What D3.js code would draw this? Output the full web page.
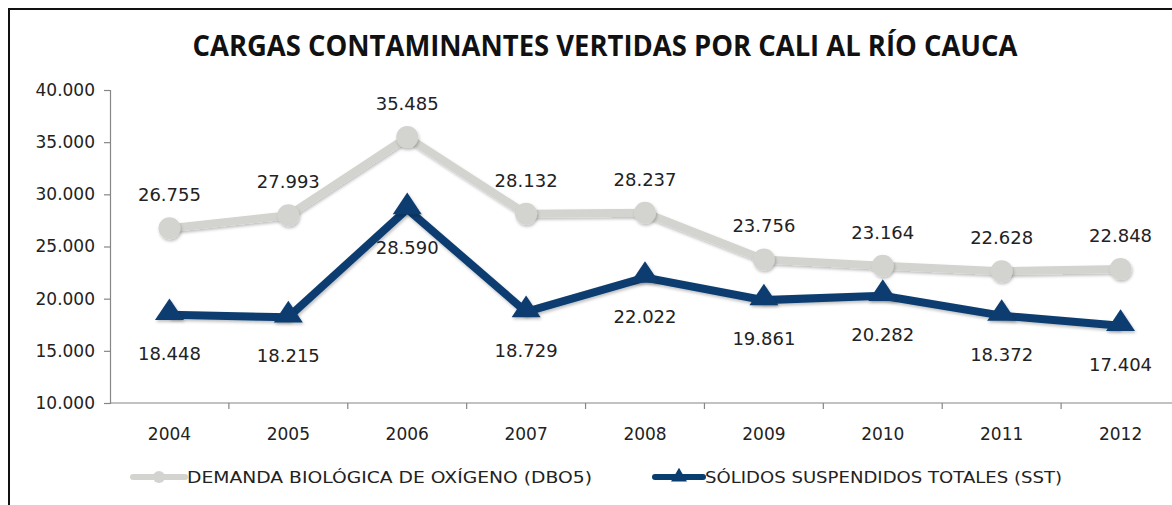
<!DOCTYPE html>
<html lang="es">
<head>
<meta charset="UTF-8">
<title>Cargas contaminantes vertidas por Cali al río Cauca</title>
<style>
    body { margin: 0; padding: 0; background: #fff; }
    svg { display: block; }
    .axis path, .axis line { stroke: #868686; stroke-width: 1.2; }
    .axis text { font-family: "DejaVu Sans", sans-serif; font-size: 17px; fill: #222; }
    .lbl { font-family: "DejaVu Sans", sans-serif; font-size: 18px; fill: #222; text-anchor: middle; }
</style>
<script src="https://d3js.org/d3.v7.min.js"></script>
</head>
<body>
<div id="chart"></div>
<script>
// datos
const years = ["2004", "2005", "2006", "2007", "2008", "2009", "2010", "2011", "2012"];
const dbo5 = [26755, 27993, 35485, 28132, 28237, 23756, 23164, 22628, 22848];
const sst = [18448, 18215, 28590, 18729, 22022, 19861, 20282, 18372, 17404];
const yTicks = [10000, 15000, 20000, 25000, 30000, 35000, 40000];

const W = 1172, H = 505;
const margin = { left: 110, right: -8, top: 90, bottom: 102 };

const svg = d3.select("#chart").append("svg")
    .attr("width", W)
    .attr("height", H);

const defs = svg.append("defs");
defs.append("filter").attr("id", "shadow")
    .attr("x", "-50%").attr("y", "-50%").attr("width", "200%").attr("height", "200%")
    .append("feDropShadow")
    .attr("dx", 1).attr("dy", 2).attr("stdDeviation", 1.5)
    .attr("flood-color", "#000").attr("flood-opacity", 0.25);

// marco exterior
svg.append("rect")
    .attr("x", 9).attr("y", 9)
    .attr("width", W + 20).attr("height", H + 20)
    .attr("fill", "none").attr("stroke", "#111").attr("stroke-width", 2);

svg.append("text")
    .attr("x", 605).attr("y", 56)
    .attr("text-anchor", "middle")
    .attr("font-family", "'Open Sans', sans-serif")
    .attr("font-weight", "bold")
    .attr("font-size", 29)
    .attr("fill", "#111")
    .attr("textLength", 825)
    .attr("lengthAdjust", "spacingAndGlyphs")
    .text("CARGAS CONTAMINANTES VERTIDAS POR CALI AL RÍO CAUCA");

const x = d3.scaleBand()
    .domain(years)
    .range([margin.left, W - margin.right]);

const y = d3.scaleLinear()
    .domain([10000, 40000])
    .range([H - margin.bottom, margin.top]);

const fmt = v => d3.format(",")(v).replace(/,/g, ".");

// eje y
svg.append("g")
    .attr("class", "axis")
    .attr("transform", `translate(${margin.left},0)`)
    .call(d3.axisLeft(y).tickValues(yTicks).tickFormat(fmt).tickSizeOuter(0).tickSize(6).tickPadding(9));

// eje x, marcas entre categorias
const xAxis = svg.append("g")
    .attr("class", "axis")
    .attr("transform", `translate(0,${H - margin.bottom})`)
    .call(d3.axisBottom(x).tickSize(0).tickPadding(25));
xAxis.select(".domain").remove();
xAxis.append("line")
    .attr("x1", margin.left).attr("x2", W - margin.right)
    .attr("stroke", "#868686").attr("stroke-width", 1.2);
xAxis.selectAll(".sep")
    .data(years)
    .enter().append("line")
    .attr("class", "sep")
    .attr("x1", d => x(d) + x.bandwidth()).attr("x2", d => x(d) + x.bandwidth())
    .attr("y1", 0).attr("y2", 6)
    .attr("stroke", "#868686").attr("stroke-width", 1.2);

const cx = d => x(d) + x.bandwidth() / 2;
const line = d3.line()
    .x((d, i) => cx(years[i]))
    .y(d => y(d));

const grey = "#d3d3cf", blue = "#0a3d6f";

// serie DBO5
svg.append("path")
    .datum(dbo5)
    .attr("d", line)
    .attr("fill", "none")
    .attr("stroke", grey)
    .attr("stroke-width", 8)
    .attr("stroke-linejoin", "round")
    .attr("filter", "url(#shadow)");

svg.selectAll(".dot")
    .data(dbo5)
    .enter().append("circle")
    .attr("class", "dot")
    .attr("cx", (d, i) => cx(years[i]))
    .attr("cy", d => y(d))
    .attr("r", 11)
    .attr("fill", grey)
    .attr("filter", "url(#shadow)");

// serie SST
svg.append("path")
    .datum(sst)
    .attr("d", line)
    .attr("fill", "none")
    .attr("stroke", blue)
    .attr("stroke-width", 8)
    .attr("stroke-linejoin", "miter")
    .attr("filter", "url(#shadow)");

const tri = d3.symbol().type(d3.symbolTriangle).size(300);
svg.selectAll(".tri")
    .data(sst)
    .enter().append("path")
    .attr("class", "tri")
    .attr("d", tri)
    .attr("transform", (d, i) => `translate(${cx(years[i])},${y(d) - 2}) scale(1.1,0.95)`)
    .attr("fill", blue)
    .attr("filter", "url(#shadow)");

// etiquetas
svg.selectAll(".lblA")
    .data(dbo5)
    .enter().append("text")
    .attr("class", "lbl")
    .attr("x", (d, i) => cx(years[i]))
    .attr("y", d => y(d) - 27)
    .text(fmt);

svg.selectAll(".lblB")
    .data(sst)
    .enter().append("text")
    .attr("class", "lbl")
    .attr("x", (d, i) => cx(years[i]))
    .attr("y", d => y(d) + 45)
    .text(fmt);

// leyenda
const leg = svg.append("g").attr("transform", "translate(0,477)");
leg.append("line").attr("x1", 133).attr("x2", 185)
    .attr("stroke", grey).attr("stroke-width", 6).attr("stroke-linecap", "round");
leg.append("circle").attr("cx", 159).attr("cy", 0).attr("r", 6).attr("fill", grey);
leg.append("text")
    .attr("x", 187).attr("y", 6)
    .attr("font-family", "'DejaVu Sans', sans-serif").attr("font-size", 15).attr("fill", "#222")
    .attr("textLength", 405).attr("lengthAdjust", "spacingAndGlyphs")
    .text("DEMANDA BIOLÓGICA DE OXÍGENO (DBO5)");

leg.append("line").attr("x1", 655).attr("x2", 703)
    .attr("stroke", blue).attr("stroke-width", 6).attr("stroke-linecap", "round");
leg.append("path").attr("d", d3.symbol().type(d3.symbolTriangle).size(110))
    .attr("transform", "translate(679,0)").attr("fill", blue);
leg.append("text")
    .attr("x", 705).attr("y", 6)
    .attr("font-family", "'DejaVu Sans', sans-serif").attr("font-size", 15).attr("fill", "#222")
    .attr("textLength", 357).attr("lengthAdjust", "spacingAndGlyphs")
    .text("SÓLIDOS SUSPENDIDOS TOTALES (SST)");
</script>
</body>
</html>
